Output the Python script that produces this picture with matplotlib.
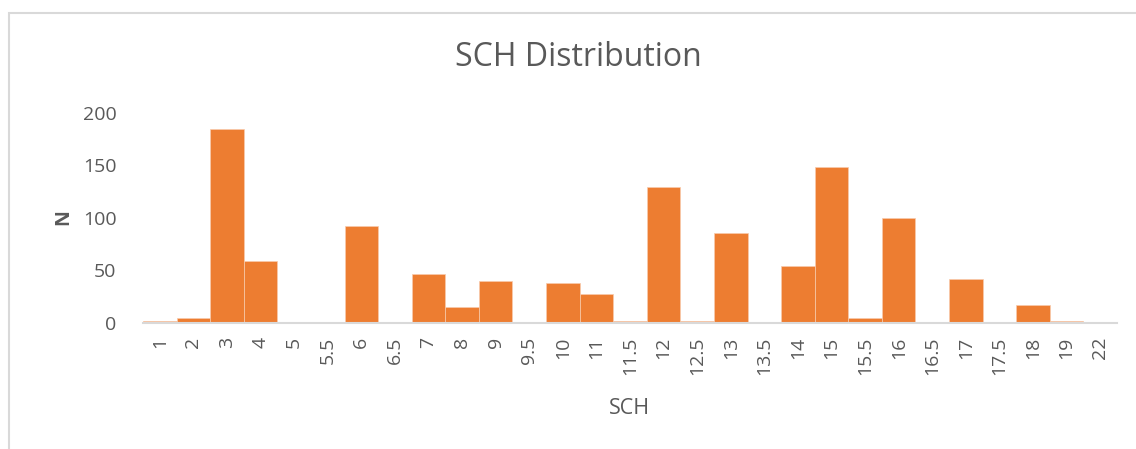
"""SCH distribution histogram (Excel-style)."""
import matplotlib.pyplot as plt
from matplotlib.patches import Rectangle

plt.rcParams['font.family'] = ['Open Sans', 'DejaVu Sans']

sch_labels = ['1', '2', '3', '4', '5', '5.5', '6', '6.5', '7', '8', '9', '9.5',
              '10', '11', '11.5', '12', '12.5', '13', '13.5', '14', '15', '15.5',
              '16', '16.5', '17', '17.5', '18', '19', '22']
counts = [1, 4, 185, 59, 0, 0, 92, 0, 46, 15, 40, 0,
          38, 27, 1, 129, 1, 85, 0, 54, 148, 4,
          100, 0, 42, 0, 17, 1, 0]

text_color = '#595959'
bar_color = '#ED7D31'

W, H = 1136, 449
fig = plt.figure(figsize=(W / 100, H / 100), dpi=100)

# chart border (Excel chart area outline)
fig.patches.append(Rectangle((9 / W, -0.1), 1.2, 1 - 13 / H + 0.1,
                             transform=fig.transFigure, fill=False,
                             edgecolor='#D9D9D9', linewidth=1.5))

ax = fig.add_axes([143 / W, 1 - 322.5 / H, (1117 - 143) / W, (322.5 - 113) / H])
x = range(len(sch_labels))
ax.bar(x, counts, width=1.0, color=bar_color, edgecolor='#F8CBAD', linewidth=0.5)

ax.set_xlim(-0.5, len(sch_labels) - 0.5)
ax.set_ylim(0, 200)
ax.set_yticks([0, 50, 100, 150, 200])
ax.set_xticks(list(x))
ax.set_xticklabels(sch_labels, rotation=90)

for side in ['top', 'right', 'left']:
    ax.spines[side].set_visible(False)
ax.spines['bottom'].set_color('#D9D9D9')
ax.spines['bottom'].set_linewidth(1.5)
ax.tick_params(axis='both', length=0, colors=text_color, labelsize=14)
ax.tick_params(axis='y', pad=19)
ax.tick_params(axis='x', pad=10)

fig.text(578 / W, 1 - 58 / H, 'SCH Distribution', ha='center', va='center',
         fontsize=23, color=text_color)
fig.text(63 / W, 1 - 217 / H, 'N', ha='center', va='center', rotation=90,
         fontsize=14, fontweight='bold', color=text_color)
fig.text(630 / W, 1 - 408 / H, 'SCH', ha='center', va='center',
         fontsize=15.5, color=text_color)

fig.savefig('out.png', dpi=100)
